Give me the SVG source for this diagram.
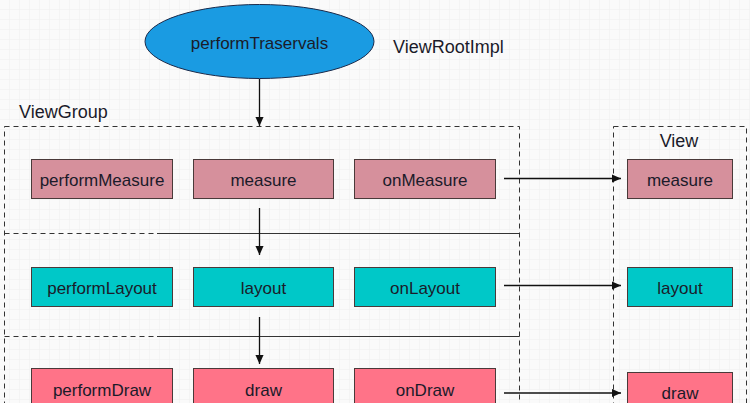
<svg xmlns="http://www.w3.org/2000/svg" width="750" height="403" viewBox="0 0 750 403">
<defs>
<pattern id="grid" width="10" height="10" patternUnits="userSpaceOnUse">
<path d="M10 0V10M0 10H10" fill="none" stroke="#efefef" stroke-width="1"/>
</pattern>
<marker id="arr" viewBox="0 0 10 10" refX="10" refY="5" markerWidth="9" markerHeight="9" markerUnits="userSpaceOnUse" orient="auto">
<path d="M0 0.5L10 5L0 9.5z" fill="#111"/>
</marker>
<style>
text{font-family:"Helvetica Neue","Liberation Sans",Arial,sans-serif;fill:#1b1b2a;}
.lbl{font-size:17px;text-anchor:middle;dominant-baseline:central;}
.title{font-size:18px;}
.box{stroke:#4a3a3a;stroke-width:1;}
.m{fill:#d6909c;}
.l{fill:#00c8c8;}
.d{fill:#ff7388;}
.dash{fill:none;stroke:#333;stroke-width:1;stroke-dasharray:5,4;}
.conn{fill:none;stroke:#111;stroke-width:1.3;}
.div{fill:none;stroke:#333;stroke-width:1;}
</style>
</defs>
<rect width="750" height="403" fill="#fafafa"/>
<rect width="750" height="403" fill="url(#grid)"/>

<g id="containers">
<rect class="dash" x="4.5" y="126.5" width="515" height="300"/>
<rect class="dash" x="613.5" y="126.5" width="133" height="300"/>
<path class="dash" d="M4.5 233.5H157"/>
<path class="div" d="M157 233.5H519.5"/>
<path class="dash" d="M4.5 336.5H157"/>
<path class="div" d="M157 336.5H519.5"/>
<text class="title" x="19" y="118">ViewGroup</text>
<text class="title" x="679" y="147" text-anchor="middle">View</text>
<text class="title" x="393" y="53">ViewRootImpl</text>
</g>

<g id="performTraservals">
<ellipse cx="259.5" cy="41.5" rx="114.5" ry="37" fill="#1a9be2" stroke="#1b2a4a" stroke-width="1"/>
<text class="lbl" x="259.5" y="43">performTraservals</text>
</g>

<g id="performMeasure"><rect class="box m" x="31.5" y="159.5" width="141" height="39"/><text class="lbl" x="102" y="180">performMeasure</text></g>
<g id="measure"><rect class="box m" x="193.5" y="159.5" width="140" height="39"/><text class="lbl" x="263.5" y="180">measure</text></g>
<g id="onMeasure"><rect class="box m" x="354.5" y="159.5" width="141" height="39"/><text class="lbl" x="425" y="180">onMeasure</text></g>
<g id="viewMeasure"><rect class="box m" x="627.5" y="159.5" width="105" height="39"/><text class="lbl" x="680" y="180">measure</text></g>

<g id="performLayout"><rect class="box l" x="31.5" y="267.5" width="141" height="39"/><text class="lbl" x="102" y="288">performLayout</text></g>
<g id="layout"><rect class="box l" x="193.5" y="267.5" width="140" height="39"/><text class="lbl" x="263.5" y="288">layout</text></g>
<g id="onLayout"><rect class="box l" x="354.5" y="267.5" width="141" height="39"/><text class="lbl" x="425" y="288">onLayout</text></g>
<g id="viewLayout"><rect class="box l" x="627.5" y="267.5" width="105" height="39"/><text class="lbl" x="680" y="288">layout</text></g>

<g id="performDraw"><rect class="box d" x="31.5" y="368.5" width="141" height="40"/><text class="lbl" x="102" y="390">performDraw</text></g>
<g id="draw"><rect class="box d" x="193.5" y="368.5" width="140" height="40"/><text class="lbl" x="263.5" y="390">draw</text></g>
<g id="onDraw"><rect class="box d" x="354.5" y="368.5" width="141" height="40"/><text class="lbl" x="425" y="390">onDraw</text></g>
<g id="viewDraw"><rect class="box d" x="627.5" y="372.5" width="105" height="40"/><text class="lbl" x="680" y="393">draw</text></g>

<g id="connectors">
<path class="conn" d="M259.5 79V126" marker-end="url(#arr)"/>
<path class="conn" d="M259.5 208V255" marker-end="url(#arr)"/>
<path class="conn" d="M259.5 317V364" marker-end="url(#arr)"/>
<path class="conn" d="M504 178.5H621" marker-end="url(#arr)"/>
<path class="conn" d="M504 285.5H621" marker-end="url(#arr)"/>
<path class="conn" d="M504 393H621" marker-end="url(#arr)"/>
</g>
</svg>
